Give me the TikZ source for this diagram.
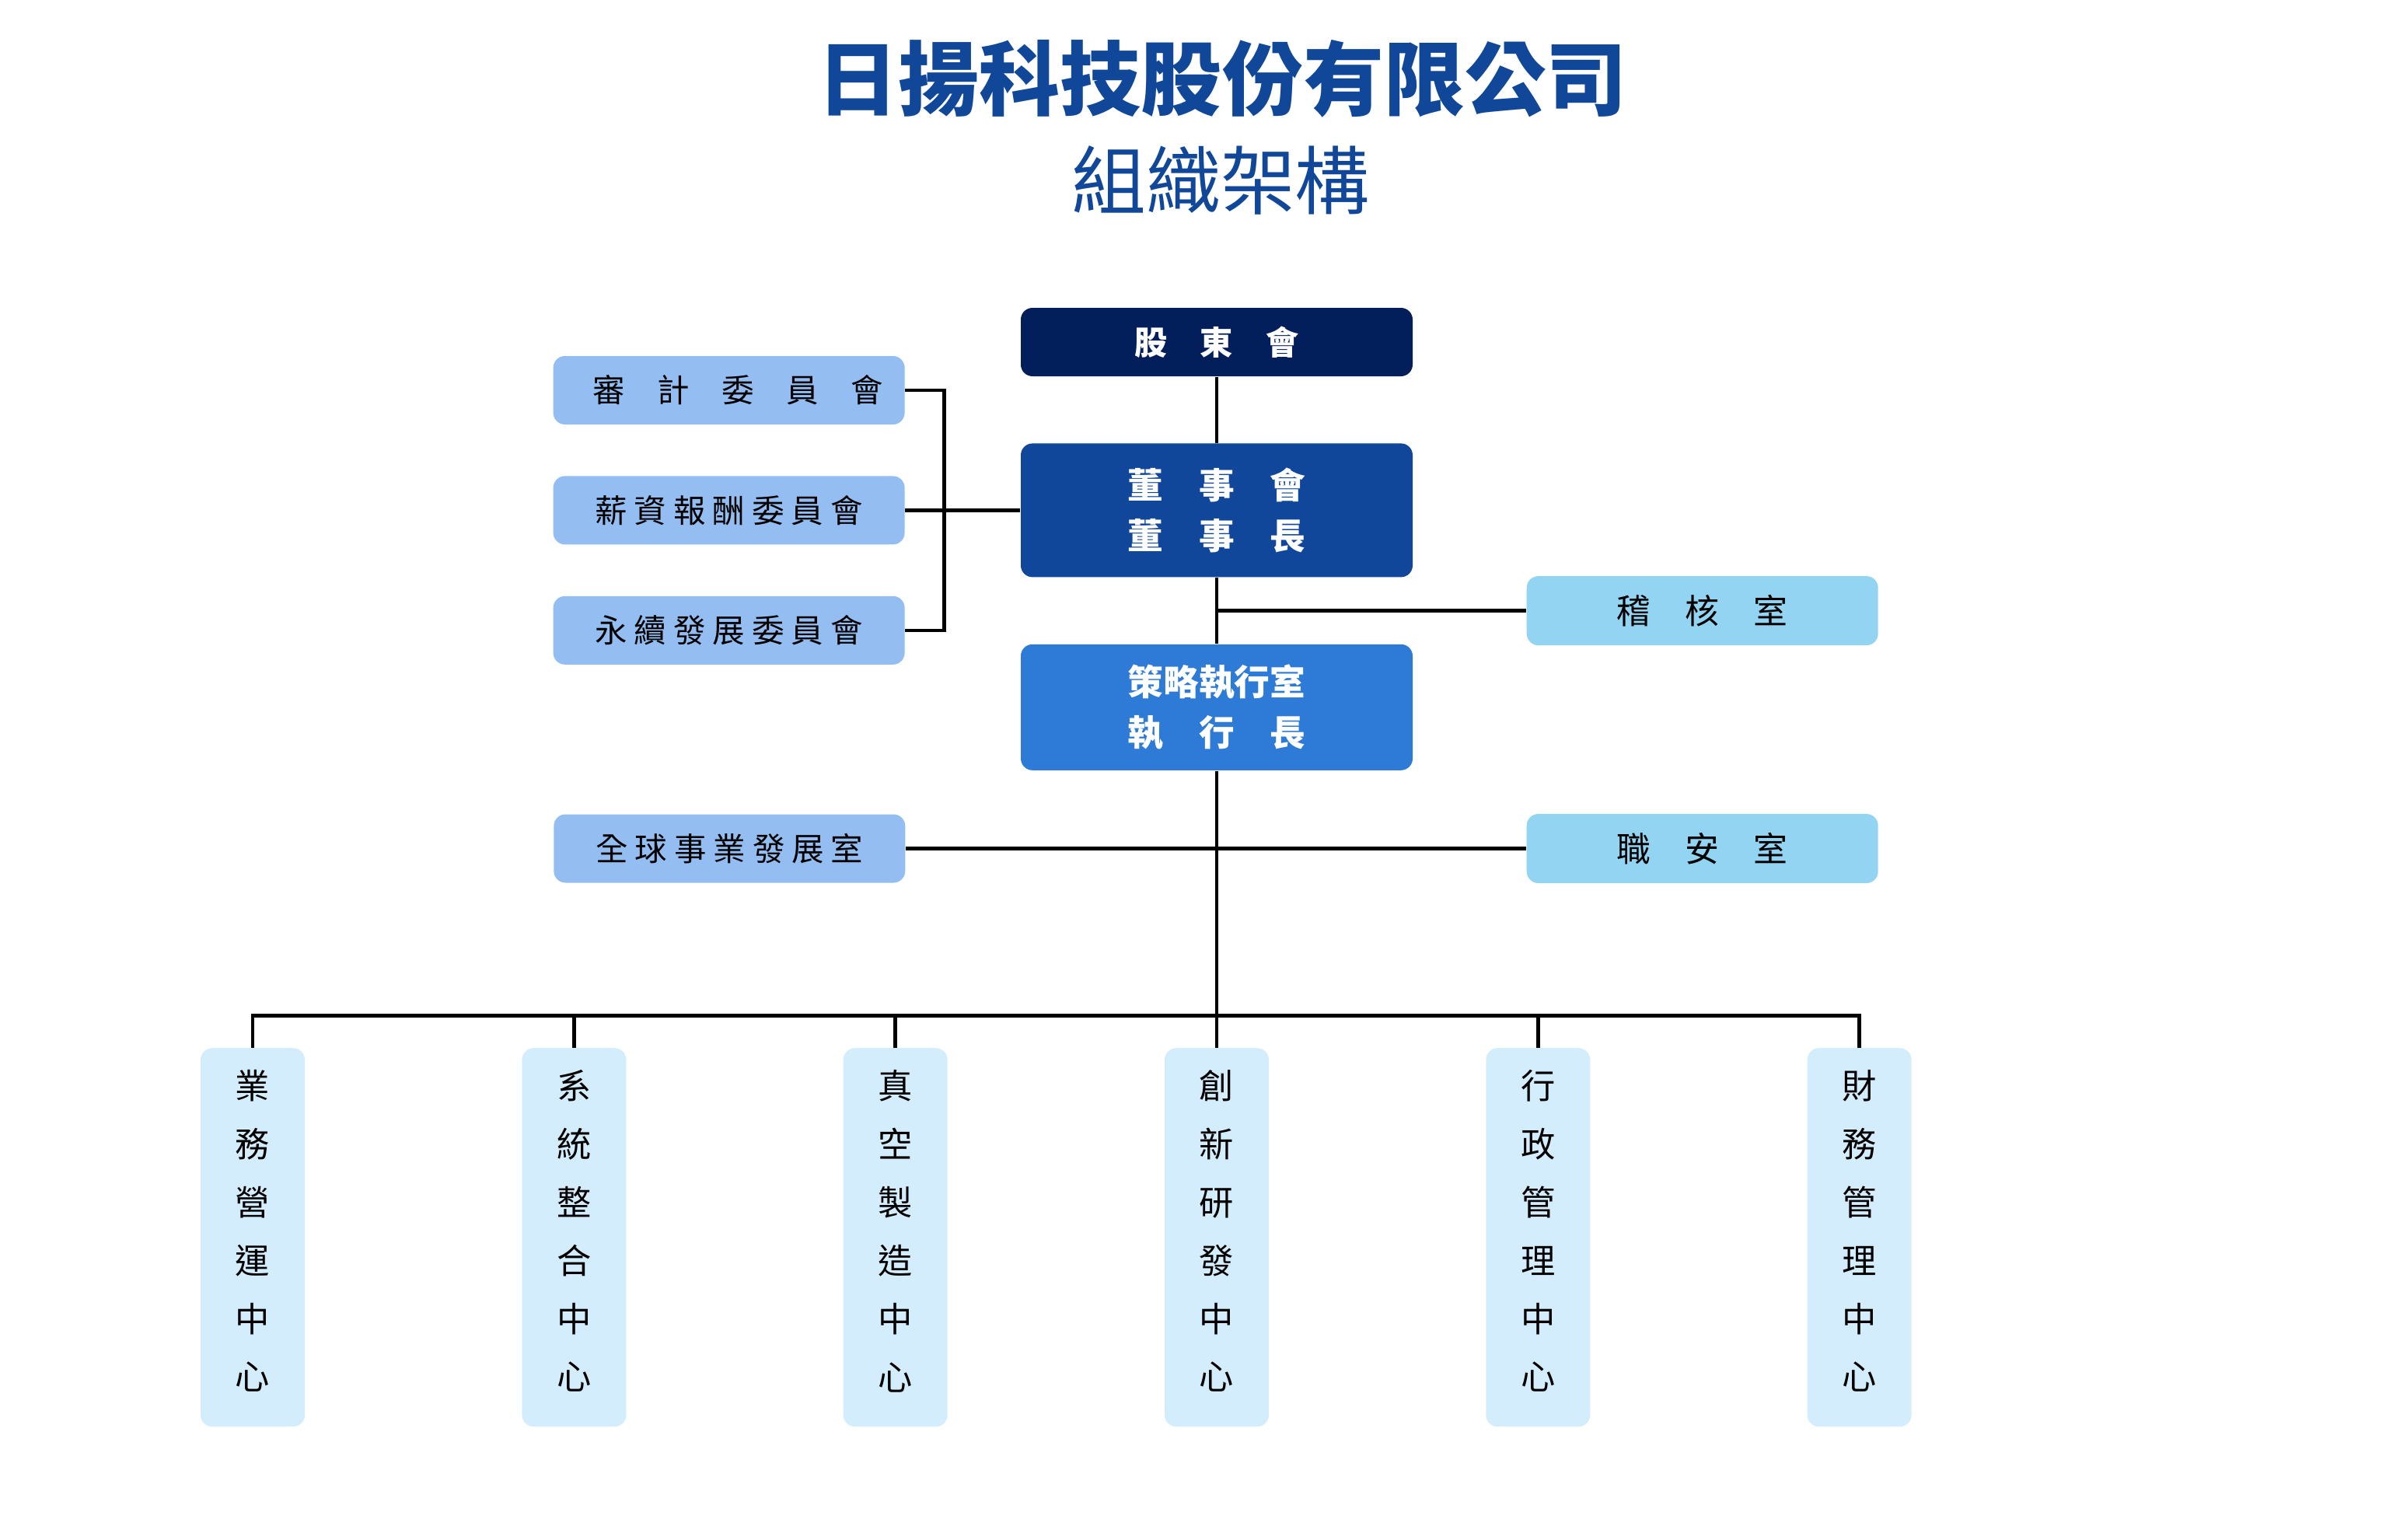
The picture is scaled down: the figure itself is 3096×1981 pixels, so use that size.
\documentclass[tikz,border=0pt]{standalone}
\usepackage{fontspec}
\setmainfont{Noto Sans CJK TC}
\usepackage{xcolor}
\usepackage{tikz}
\usetikzlibrary{positioning}
\definecolor{titleblue}{RGB}{16,71,152}
\definecolor{navyblue}{RGB}{2,31,92}
\definecolor{boardblue}{RGB}{16,71,154}
\definecolor{execblue}{RGB}{45,123,214}
\definecolor{cmtblue}{RGB}{148,190,242}
\definecolor{staffblue}{RGB}{147,212,242}
\definecolor{centerblue}{RGB}{212,237,253}
\newcommand{\lsp}{\hspace{0.9mm}}
\tikzset{
  top box/.style={
    rounded corners=1.5mm, inner sep=0pt, align=center,
    minimum width=50.4mm, text=white,
    font=\bfseries\fontsize{13pt}{18.5pt}\selectfont,
  },
  committee box/.style={
    rounded corners=1.5mm, inner sep=0pt, fill=cmtblue,
    minimum width=45.2mm, minimum height=8.8mm,
    font=\fontsize{11.8pt}{14pt}\selectfont,
  },
  staff box/.style={
    rounded corners=1.5mm, inner sep=0pt, fill=staffblue,
    minimum width=45.2mm, minimum height=8.9mm,
    font=\fontsize{12.5pt}{14pt}\selectfont,
  },
  center box/.style={
    rounded corners=1.5mm, inner sep=0pt, fill=centerblue, align=center,
    minimum width=13.4mm, minimum height=48.7mm, text depth=1.9mm,
    font=\fontsize{12.6pt}{21.3pt}\selectfont,
  },
  org line/.style={draw=black, line width=1.3pt},
}
\begin{document}
\begin{tikzpicture}[x=0.1mm, y=-0.1mm]
  \useasboundingbox (0,0) rectangle (3096,1981);

  % Title
  \node[text=titleblue, font=\bfseries\fontsize{29.6pt}{32pt}\selectfont] (title) at (1572,101) {日揚科技股份有限公司};
  \node[text=titleblue, font=\fontsize{27.3pt}{30pt}\selectfont] (subtitle) at (1570,232) {組織架構};

  % Main column
  \node[top box, fill=navyblue, minimum height=8.8mm, font=\bfseries\fontsize{12pt}{14pt}\selectfont] (gudong) at (1565,440) {股　東　會};
  \node[top box, fill=boardblue, minimum height=17.2mm, below=8.5mm of gudong] (dongshi) {董　事　會\\董　事　長};
  \node[top box, fill=execblue, minimum height=16.2mm, below=8.5mm of dongshi] (celue) {策略執行室\\執　行　長};

  % Committees
  \node[committee box, left=14.8mm of dongshi] (xinzi) {薪\lsp{}資\lsp{}報\lsp{}酬\lsp{}委\lsp{}員\lsp{}會};
  \node[committee box, above=6.5mm of xinzi] (shenji) {\hspace{2.4mm}審　計　委　員　會};
  \node[committee box, below=6.5mm of xinzi] (yongxu) {永\lsp{}續\lsp{}發\lsp{}展\lsp{}委\lsp{}員\lsp{}會};
  \coordinate[right=5mm of xinzi.east] (brk);

  % Staff units
  \coordinate[below=4.25mm of dongshi.south] (jct_audit);
  \node[staff box, right=39.8mm of jct_audit] (audit) {稽　核　室};
  \coordinate[below=10mm of celue.south] (jct_safe);
  \node[committee box, left=40mm of jct_safe] (global) {全\lsp{}球\lsp{}事\lsp{}業\lsp{}發\lsp{}展\lsp{}室};
  \node[staff box, right=39.8mm of jct_safe] (safety) {職　安　室};

  % Centers
  \coordinate[below=31.5mm of celue.south] (bus_rd);
  \coordinate[left=124mm of bus_rd] (bus_0);
  \coordinate[left=82.66mm of bus_rd] (bus_1);
  \coordinate[left=41.33mm of bus_rd] (bus_2);
  \coordinate[right=41.33mm of bus_rd] (bus_4);
  \coordinate[right=82.66mm of bus_rd] (bus_5);

  \node[center box, below=4.1mm of bus_0] (sales) {業\\務\\營\\運\\中\\心};
  \node[center box, below=4.1mm of bus_1] (system) {系\\統\\整\\合\\中\\心};
  \node[center box, below=4.1mm of bus_2] (vacuum) {真\\空\\製\\造\\中\\心};
  \node[center box, below=4.1mm of bus_rd] (rnd) {創\\新\\研\\發\\中\\心};
  \node[center box, below=4.1mm of bus_4] (admin) {行\\政\\管\\理\\中\\心};
  \node[center box, below=4.1mm of bus_5] (finance) {財\\務\\管\\理\\中\\心};

  % Connect nodes
  \draw[org line] (gudong) -- (dongshi);
  \draw[org line] (dongshi) -- (celue);
  \draw[org line] (jct_audit) -- (audit);
  \draw[org line] (shenji.east) -| (brk) |- (yongxu.east);
  \draw[org line] (xinzi) -- (dongshi);
  \draw[org line] (global) -- (safety);
  \draw[org line] (celue) -- (bus_rd) -- (rnd);
  \draw[org line] (sales) -- (bus_0) -- (bus_5) -- (finance);
  \draw[org line] (bus_1) -- (system);
  \draw[org line] (bus_2) -- (vacuum);
  \draw[org line] (bus_4) -- (admin);

\end{tikzpicture}
\end{document}
